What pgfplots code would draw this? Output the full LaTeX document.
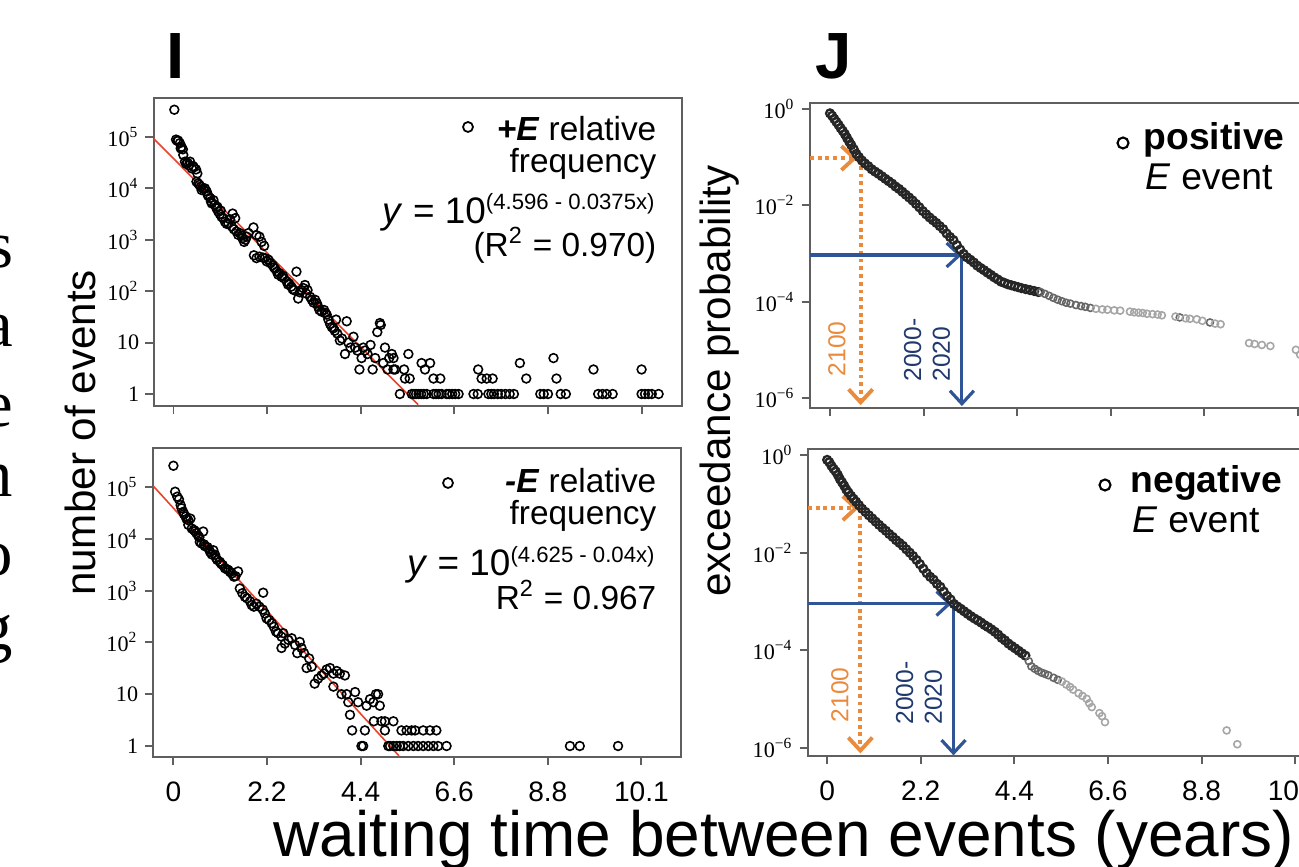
\documentclass[border=0pt]{standalone}
\usepackage{fontspec}
\setmainfont{Liberation Sans}
\newfontfamily\tickserif{Liberation Serif}
\usepackage{pgfplots}
\usepackage{pgfplotstable}
\pgfplotsset{compat=1.18}
\usetikzlibrary{arrows.meta}
\definecolor{fitred}{RGB}{232,65,44}
\definecolor{arrorange}{RGB}{233,138,61}
\definecolor{arrblue}{RGB}{47,85,151}
\definecolor{txtblue}{RGB}{31,56,110}
\definecolor{boxgray}{RGB}{95,95,95}

\pgfplotsset{
  panel/.style={
    scale only axis, width=52.8mm, anchor=south west,
    axis line style={boxgray, line width=0.55pt},
    tick style={boxgray, line width=0.55pt},
    tick align=outside, major tick length=0.85mm,
    xtick pos=bottom, ytick pos=left,
    yminorticks=false,
    xtick={0,2.2,4.4,6.6,8.8,11},
    xticklabel style={font=\fontsize{8}{9}\selectfont, yshift=-0.4mm},
    yticklabel style={font=\tickserif\fontsize{6.3}{7.5}\selectfont, xshift=0.6mm},
  },
  leftpanel/.style={panel, ytick={1,10,100,1000,10000,100000},
    yticklabels={1,10,10\textsuperscript{2},10\textsuperscript{3},10\textsuperscript{4},10\textsuperscript{5}}},
  rightpanel/.style={panel, ytick={1,1e-2,1e-4,1e-6},
    yticklabels={10\textsuperscript{0},10\textsuperscript{−2},10\textsuperscript{−4},10\textsuperscript{−6}}},
  nolabels/.style={xticklabels={,,,,,}},
  withlabels/.style={xticklabels={0,2.2,4.4,6.6,8.8,10.1}},
  cmark/.style={only marks, mark=o, mark size=1.25pt, mark options={line width=0.45pt}},
  rmark/.style={only marks, mark=o, mark size=1.0pt, mark options={line width=0.45pt}},
  dmark/.style={only marks, mark=o, mark size=1.12pt, mark options={line width=0.65pt}},
}
\tikzset{darrow/.style={line width=0.9pt, -{Straight Barb[length=1.3mm,width=2.4mm]}},
  dotarrow/.style={line width=1.1pt, dash pattern=on 1.1pt off 1.1pt, -{Straight Barb[length=1.3mm,width=2.4mm]}}}
\newcommand{\expo}[1]{\textsuperscript{\fontsize{6.3}{7}\selectfont #1}}

% +E relative frequency
\pgfplotstableread{
x y
0.02 339000
0.06 89000
0.09 84000
0.11 85000
0.15 76000
0.17 60000
0.19 64000
0.22 57500
0.23 44700
0.27 33100
0.30 30000
0.33 31600
0.36 28000
0.39 33100
0.43 24500
0.46 27000
0.48 25700
0.53 23400
0.56 19500
0.54 13500
0.58 12500
0.61 11700
0.64 10800
0.66 9300
0.70 9800
0.74 10000
0.78 8700
0.80 7600
0.82 7100
0.86 6500
0.88 5600
0.90 5100
0.94 5900
0.97 4800
1.01 4100
1.03 4400
1.05 3550
1.09 3160
1.11 3700
1.13 2800
1.17 2630
1.21 2240
1.25 2040
1.29 2090
1.33 2500
1.39 3240
1.37 1820
1.42 1600
1.45 2630
1.48 1450
1.52 1250
1.56 1350
1.60 1200
1.62 1070
1.66 910
1.69 1000
1.72 1150
1.76 1350
1.88 1740
1.95 1230
2.02 1150
2.07 910
2.13 760
1.89 500
1.95 440
2.02 470
2.10 450
2.15 440
2.19 380
2.23 410
2.28 350
2.33 320
2.36 290
2.39 275
2.43 240
2.46 210
2.49 225
2.54 190
2.57 200
2.60 178
2.66 155
2.69 135
2.72 141
2.77 123
2.80 110
2.89 240
2.83 105
2.93 72
2.97 95
3.01 105
3.05 115
3.09 132
3.12 90
3.15 105
3.21 78
3.25 68
3.29 60
3.33 68
3.37 58
3.40 50
3.43 43
3.48 40
3.54 43
3.57 38
3.60 35
3.64 28
3.68 23
3.72 20
3.76 19
3.79 17
3.82 28
3.85 15
3.91 11
3.96 12
4.03 6
4.07 26
4.11 10
4.16 8
4.23 13
4.27 8
4.32 7
4.37 3
4.42 5
4.46 8
4.50 7
4.56 6
4.63 9
4.68 3
4.74 5
4.79 16
4.87 22
4.85 24
4.93 4
4.97 8
5.03 3
5.07 5
5.13 6
5.17 5
5.17 3
5.21 3
5.32 1
5.42 3
5.44 2
5.52 6
5.55 2
5.60 1
5.65 1
5.70 1
5.76 1
5.82 1
5.83 4
5.88 1
5.91 3
5.95 1
6.03 4
6.11 2
6.11 1
6.17 1
6.23 1
6.27 2
6.30 1
6.42 1
6.48 1
6.55 1
6.62 1
6.70 1
7.05 1
7.15 1
7.16 3
7.24 2
7.36 2
7.40 1
7.47 1
7.50 2
7.53 1
7.62 1
7.70 1
7.80 1
7.90 1
8.00 1
8.14 4
8.29 2
8.62 1
8.70 1
8.80 1
8.93 5
9.00 2
9.10 1
9.22 1
9.87 3
9.98 1
10.08 1
10.18 1
10.32 1
11.00 3
11.00 1
11.08 1
11.16 1
11.24 1
11.40 1
}\TL

% -E relative frequency
\pgfplotstableread{
x y
0.00 257000
0.04 81000
0.09 65000
0.13 57500
0.17 44700
0.19 38900
0.23 33100
0.25 30000
0.29 26900
0.31 24000
0.35 22900
0.40 24500
0.35 18600
0.43 15800
0.48 14800
0.51 14000
0.54 12900
0.58 11500
0.61 10700
0.70 13800
0.62 8700
0.66 8100
0.72 7800
0.74 7200
0.80 6900
0.84 6200
0.86 5600
0.90 5000
0.94 6000
0.98 4900
1.00 4300
1.03 3900
1.09 3600
1.12 3300
1.16 3100
1.21 2700
1.25 2600
1.29 2500
1.33 2300
1.37 2140
1.42 1860
1.46 1900
1.52 2340
1.56 1100
1.62 890
1.68 760
1.73 710
1.80 620
1.84 525
1.89 490
1.95 560
2.02 490
2.11 910
2.10 430
2.15 360
2.19 290
2.25 270
2.31 235
2.36 200
2.41 162
2.46 151
2.54 129
2.58 151
2.54 78
2.62 95
2.70 112
2.78 120
2.86 89
2.91 62
2.97 102
3.01 78
3.07 62
3.13 32
3.19 49
3.25 34
3.32 16
3.40 20
3.48 23
3.54 25
3.60 30
3.68 32
3.76 25
3.84 28
3.91 25
4.03 23
3.76 14
3.95 10
4.07 10
4.11 7
4.15 4
4.20 2
4.27 11
4.34 7
4.42 1
4.46 1
4.50 2
4.54 6
4.62 8
4.70 7
4.76 10
4.81 10
4.71 3
4.89 3
4.85 6
4.97 3
4.97 2
5.05 1
5.09 1
5.17 3
5.17 1
5.25 1
5.32 1
5.36 2
5.40 1
5.48 2
5.52 1
5.60 2
5.64 1
5.68 2
5.75 1
5.87 2
5.87 1
5.99 1
6.03 2
6.11 1
6.18 2
6.22 1
6.42 1
9.32 1
9.55 1
10.45 1
}\BL

% positive E event, exceedance probability
\pgfplotstableread{
x y
0.00 0.81
0.05 0.72
0.10 0.62
0.15 0.54
0.20 0.47
0.25 0.40
0.30 0.35
0.35 0.30
0.40 0.25
0.45 0.21
0.50 0.178
0.56 0.145
0.62 0.117
0.68 0.100
0.75 0.085
0.82 0.074
0.90 0.065
0.98 0.056
1.06 0.050
1.14 0.045
1.22 0.040
1.30 0.0355
1.38 0.0316
1.46 0.0282
1.54 0.0245
1.62 0.0219
1.70 0.0191
1.78 0.0166
1.86 0.0145
1.94 0.0126
2.02 0.0107
2.10 0.0091
2.18 0.0076
2.26 0.0065
2.34 0.0056
2.42 0.0049
2.50 0.0043
2.58 0.0037
2.66 0.0032
2.74 0.0026
2.82 0.0022
2.90 0.0019
2.98 0.0015
3.06 0.0012
3.14 0.00098
3.22 0.00083
3.30 0.00074
3.38 0.00065
3.46 0.00056
3.54 0.00050
3.62 0.00045
3.70 0.00040
3.78 0.00036
3.86 0.00032
3.94 0.00029
4.02 0.00026
4.10 0.000245
4.18 0.000229
4.26 0.000219
4.34 0.000209
4.42 0.000200
4.50 0.000191
4.60 0.000182
4.70 0.000174
4.80 0.000166
4.90 0.000158
}\TRa
\pgfplotstableread{
x y
4.95 1.58e-4
5.05 1.45e-4
5.15 1.32e-4
5.25 1.20e-4
5.35 1.10e-4
5.45 1.02e-4
5.55 9.5e-5
5.65 9.1e-5
5.78 8.5e-5
5.90 8.1e-5
6.00 7.8e-5
6.12 7.4e-5
8.22 4.7e-5
8.93 3.7e-5
}\TRb
\pgfplotstableread{
x y
6.25 7.1e-5
6.40 6.9e-5
6.52 6.8e-5
6.68 6.6e-5
6.82 6.5e-5
7.05 6.2e-5
7.15 6.0e-5
7.25 5.9e-5
7.35 5.8e-5
7.45 5.6e-5
7.58 5.5e-5
7.70 5.4e-5
7.80 5.2e-5
8.12 4.9e-5
8.36 4.5e-5
8.46 4.4e-5
8.62 4.3e-5
8.75 4.0e-5
9.05 3.5e-5
9.18 3.4e-5
9.85 1.38e-5
9.98 1.32e-5
10.15 1.26e-5
10.35 1.20e-5
10.95 1.0e-5
11.05 7.9e-6
}\TRc

% negative E event, exceedance probability
\pgfplotstableread{
x y
0.00 0.79
0.05 0.71
0.10 0.60
0.15 0.52
0.20 0.46
0.25 0.39
0.30 0.32
0.35 0.275
0.40 0.234
0.45 0.195
0.50 0.170
0.56 0.145
0.62 0.126
0.68 0.110
0.75 0.093
0.82 0.079
0.90 0.068
0.98 0.058
1.06 0.050
1.14 0.043
1.22 0.037
1.30 0.032
1.38 0.028
1.46 0.024
1.54 0.021
1.62 0.018
1.70 0.0158
1.78 0.0138
1.86 0.0117
1.94 0.0100
2.02 0.0085
2.10 0.0071
2.18 0.0058
2.26 0.0047
2.34 0.0038
2.42 0.0032
2.50 0.0028
2.58 0.0023
2.66 0.0020
2.74 0.0016
2.82 0.0013
2.90 0.0011
2.98 0.00089
3.06 0.00079
3.14 0.00071
3.22 0.00063
3.30 0.00056
3.38 0.00050
3.46 0.00045
3.54 0.00041
3.62 0.00037
3.70 0.00033
3.78 0.00030
3.86 0.00027
3.94 0.00024
4.02 0.00021
4.10 0.00018
4.18 0.00016
4.26 0.000138
4.34 0.000123
4.42 0.000110
4.50 0.000098
4.58 0.000087
4.66 0.000078
}\BRa
\pgfplotstableread{
x y
4.74 6.0e-5
4.80 4.7e-5
4.88 4.2e-5
4.96 3.8e-5
5.04 3.5e-5
5.12 3.3e-5
5.20 3.1e-5
5.32 2.75e-5
5.42 2.5e-5
}\BRb
\pgfplotstableread{
x y
5.52 2.3e-5
5.62 2.0e-5
5.71 1.78e-5
5.78 1.58e-5
5.91 1.32e-5
6.00 1.17e-5
6.10 1.02e-5
6.16 8.3e-6
6.22 6.9e-6
6.40 5.2e-6
6.46 4.5e-6
6.53 3.4e-6
9.39 2.3e-6
9.64 1.2e-6
}\BRc

\begin{document}
\begin{tikzpicture}
\useasboundingbox (0,0) rectangle (129.9mm,86.7mm);
\clip (0,0) rectangle (129.9mm,86.7mm);

% cropped letters of the neighbouring text column
\begin{scope}[every node/.style={inner sep=0pt, anchor=base east, font=\tickserif\fontsize{19}{20}\selectfont}]
\node at (1.4mm,59.9mm) {s};
\node at (1.4mm,52.0mm) {a};
\node at (1.4mm,44.0mm) {e};
\node at (1.4mm,37.0mm) {n};
\node at (1.4mm,29.1mm) {o};
\node at (1.4mm,21.7mm) {g};
\end{scope}

% I: top
\begin{axis}[ymode=log, leftpanel, nolabels, at={(15.4mm,46.1mm)}, height=30.8mm,
  xmin=-0.458, xmax=11.95, ymin=0.585, ymax=574000]
\addplot[cmark] table {\TL};
\addplot[fitred, line width=0.45pt] coordinates {(-0.48,95500) (5.75,0.617)};
\end{axis}

% I: bottom
\begin{axis}[ymode=log, leftpanel, withlabels, at={(15.3mm,11.0mm)}, height=30.9mm,
  xmin=-0.48, xmax=11.93, ymin=0.614, ymax=566000]
\addplot[cmark] table {\BL};
\addplot[fitred, line width=0.45pt] coordinates {(-0.475,104700) (5.30,0.646)};
\end{axis}

% J: top
\begin{axis}[ymode=log, rightpanel, nolabels, at={(81.0mm,45.9mm)}, height=30.5mm,
  xmin=-0.47, xmax=11.94, ymin=6.2e-7, ymax=1.33]
\addplot[dmark, black!85] table {\TRa};
\addplot[rmark, black!60] table {\TRb};
\addplot[rmark, black!35] table {\TRc};
\draw[arrorange, dotarrow] (axis cs:-0.47,0.0955) -- (axis cs:0.64,0.0955);
\draw[arrorange, dotarrow] (axis cs:0.72,0.0955) -- (axis cs:0.72,7.1e-7);
\draw[arrblue, darrow] (axis cs:-0.47,9.3e-4) -- (axis cs:3.10,9.3e-4);
\draw[arrblue, darrow] (axis cs:3.10,9.3e-4) -- (axis cs:3.10,6.8e-7);
\end{axis}

% J: bottom
\begin{axis}[ymode=log, rightpanel, withlabels, at={(80.8mm,11.1mm)}, height=30.7mm,
  xmin=-0.45, xmax=11.96, ymin=6.9e-7, ymax=1.32]
\addplot[dmark, black!85] table {\BRa};
\addplot[rmark, black!60] table {\BRb};
\addplot[rmark, black!35] table {\BRc};
\draw[arrorange, dotarrow] (axis cs:-0.45,0.081) -- (axis cs:0.74,0.081);
\draw[arrorange, dotarrow] (axis cs:0.78,0.081) -- (axis cs:0.78,7.8e-7);
\draw[arrblue, darrow] (axis cs:-0.45,9.1e-4) -- (axis cs:2.93,9.1e-4);
\draw[arrblue, darrow] (axis cs:2.97,9.1e-4) -- (axis cs:2.97,7.1e-7);
\end{axis}

% panel letters
\node[inner sep=0pt, anchor=base, font=\bfseries\fontsize{18.6}{20}\selectfont] at (17.6mm,78.8mm) {I};
\node[inner sep=0pt, anchor=base, font=\bfseries\fontsize{18.6}{20}\selectfont] at (83.4mm,78.8mm) {J};

% axis titles
\node[inner sep=0pt, anchor=base, rotate=90, font=\fontsize{12}{14}\selectfont] at (9.5mm,43.4mm) {number of events};
\node[inner sep=0pt, anchor=base, rotate=90, font=\fontsize{12}{14}\selectfont] at (73.0mm,48.6mm) {exceedance probability};
\node[inner sep=0pt, anchor=base west, font=\fontsize{18.2}{20}\selectfont] at (27.3mm,1.0mm) {waiting time between events (years)};

% legends, left
\begin{scope}[every node/.style={inner sep=0pt, anchor=base east, font=\fontsize{9.5}{11}\selectfont}]
\draw[line width=0.5pt] (46.8mm,74.0mm) circle (0.5mm);
\node at (65.7mm,72.67mm) {\textbf{\textit{+E}} relative};
\node at (65.7mm,69.4mm) {frequency};
\node at (65.7mm,64.37mm) {\fontsize{10.5}{12}\selectfont\textit{y} = 10\expo{(4.596 - 0.0375x)}};
\node at (65.7mm,61.03mm) {(R\textsuperscript{2} = 0.970)};
\draw[line width=0.5pt] (44.8mm,38.4mm) circle (0.5mm);
\node at (65.7mm,37.4mm) {\textbf{\textit{-E}} relative};
\node at (65.7mm,34.2mm) {frequency};
\node at (65.7mm,29.1mm) {\fontsize{10.5}{12}\selectfont\textit{y} = 10\expo{(4.625 - 0.04x)}};
\node at (65.7mm,25.7mm) {R\textsuperscript{2} = 0.967};
\end{scope}

% legends, right
\begin{scope}[every node/.style={inner sep=0pt, anchor=base west, font=\fontsize{10.6}{12}\selectfont}]
\draw[line width=0.6pt] (112.3mm,72.4mm) circle (0.55mm);
\node at (114.3mm,71.7mm) {\textbf{positive}};
\node at (114.5mm,67.7mm) {\textit{E} event};
\draw[line width=0.6pt] (110.5mm,38.2mm) circle (0.55mm);
\node at (113.0mm,37.4mm) {\textbf{negative}};
\node at (113.2mm,33.4mm) {\textit{E} event};
\end{scope}

% arrow captions
\begin{scope}[every node/.style={inner sep=0pt, rotate=90, align=left, font=\fontsize{7}{8.2}\selectfont}]
\node[text=arrorange] at (83.7mm,51.8mm) {2100};
\node[text=txtblue] at (92.7mm,51.7mm) {2000-\\2020};
\node[text=arrorange] at (84.0mm,17.2mm) {2100};
\node[text=txtblue] at (91.9mm,17.4mm) {2000-\\2020};
\end{scope}
\end{tikzpicture}
\end{document}
